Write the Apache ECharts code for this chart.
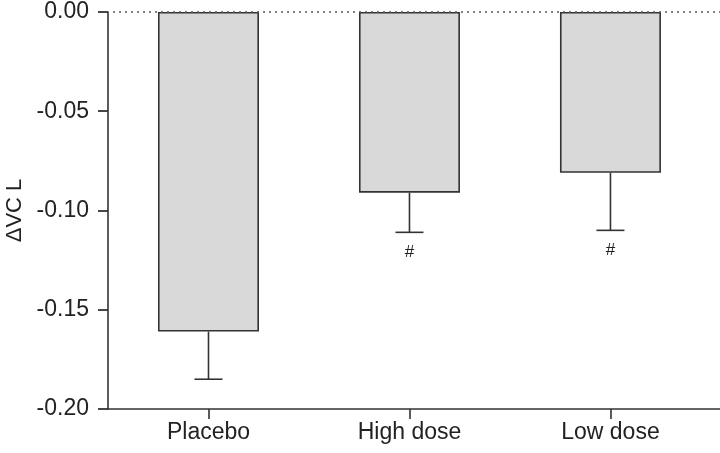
<!DOCTYPE html>
<html>
<head>
<meta charset="utf-8">
<script src="https://cdn.jsdelivr.net/npm/echarts@6/dist/echarts.min.js"></script>
<style>html,body{margin:0;padding:0;background:#fff}#c{width:720px;height:453px}</style>
</head>
<body>
<div id="c"></div>
<script>
var categories = ['Placebo', 'High dose', 'Low dose'];
var means = [-0.161, -0.091, -0.081];
var errorEnds = [-0.185, -0.111, -0.110];
var marks = ['', '#', '#'];

var FONT = 'Liberation Sans, Arial, Helvetica, sans-serif';
var positions = categories.map(function (c, i) { return i; });

var chart = echarts.init(document.getElementById('c'), null, {renderer: 'canvas'});
chart.setOption({
  animation: false,
  backgroundColor: '#fff',
  grid: {left: 108, right: 0, top: 12, bottom: 44, containLabel: false, outerBoundsMode: 'none'},
  xAxis: {
    type: 'value',
    min: -0.5,
    max: 2.545,
    splitLine: {show: false},
    axisLine: {show: true, onZero: false, lineStyle: {color: '#333', width: 1.6}},
    axisTick: {show: true, length: 10, customValues: positions, lineStyle: {color: '#333', width: 1.6}},
    axisLabel: {
      customValues: positions,
      margin: 12,
      fontFamily: FONT, fontSize: 23, color: '#222',
      formatter: function (v) { return categories[Math.round(v)] || ''; }
    }
  },
  yAxis: {
    type: 'value',
    position: 'left',
    min: -0.2,
    max: 0,
    interval: 0.05,
    name: 'ΔVC L',
    nameLocation: 'middle',
    nameRotate: 90,
    nameGap: 82,
    nameTextStyle: {fontFamily: FONT, fontSize: 22, color: '#222'},
    splitLine: {show: false},
    axisLine: {show: true, onZero: false, lineStyle: {color: '#333', width: 1.6}},
    axisTick: {show: true, length: 10, lineStyle: {color: '#333', width: 1.8}},
    axisLabel: {
      margin: 19,
      fontFamily: FONT, fontSize: 23, color: '#222',
      formatter: function (v) { return v.toFixed(2); }
    }
  },
  series: [
    {
      type: 'bar',
      barWidth: 101,
      data: means.map(function (m, i) { return [positions[i], m]; }),
      itemStyle: {color: '#d9d9d9', borderColor: '#333', borderWidth: 1.6},
      markLine: {
        silent: true,
        symbol: 'none',
        label: {show: false},
        lineStyle: {type: [2, 4], color: '#555', width: 1.5},
        data: [[{coord: [-0.475, 0]}, {coord: [2.545, 0]}]]
      },
      z: 2
    },
    {
      type: 'custom',
      data: means.map(function (m, i) { return [positions[i], m, errorEnds[i], i]; }),
      renderItem: function (params, api) {
        var x = api.value(0);
        var top = api.coord([x, api.value(1)]);
        var bot = api.coord([x, api.value(2)]);
        var half = 14;
        var children = [
          {type: 'line', shape: {x1: top[0], y1: top[1], x2: bot[0], y2: bot[1]}, style: {stroke: '#333', lineWidth: 1.6}},
          {type: 'line', shape: {x1: bot[0] - half, y1: bot[1], x2: bot[0] + half, y2: bot[1]}, style: {stroke: '#333', lineWidth: 1.6}}
        ];
        var m = marks[api.value(3)];
        if (m) {
          children.push({type: 'text', style: {text: m, x: bot[0], y: bot[1] + 11, align: 'center', verticalAlign: 'top', fontSize: 17, fontFamily: FONT, fill: '#222'}});
        }
        return {type: 'group', children: children};
      },
      z: 3
    }
  ]
});
</script>
</body>
</html>
